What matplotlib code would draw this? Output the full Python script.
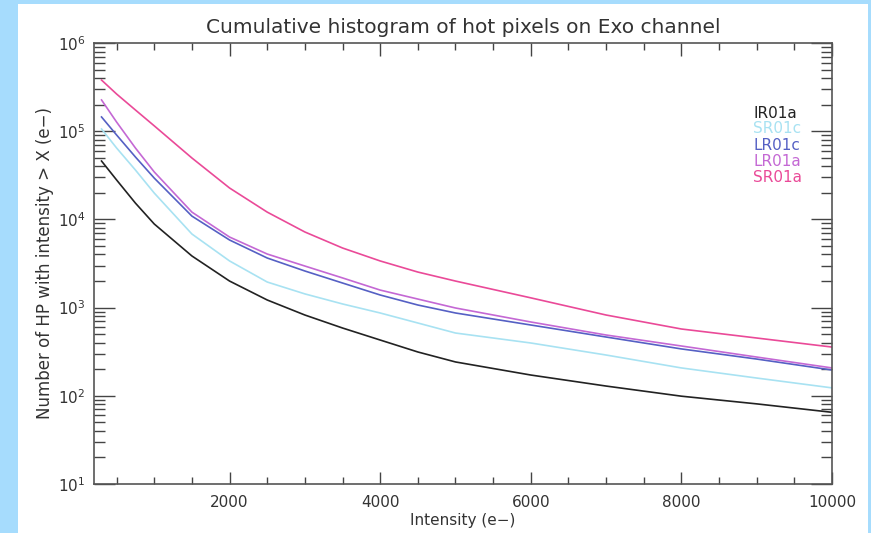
import numpy as np
import matplotlib
matplotlib.use('Agg')
import matplotlib.pyplot as plt
from matplotlib.patches import Rectangle
from matplotlib.ticker import LogLocator, MultipleLocator, FixedLocator, NullFormatter

# intensity grid (e-)
intensity = [300, 500, 750, 1000, 1500, 2000, 2500, 3000, 3500, 4000,
             4500, 5000, 6000, 7000, 8000, 9000, 10000]

# number of hot pixels with intensity > X
ir01a = [45900, 28000, 15300, 8870, 3850, 2000, 1220, 824, 587, 429,
         314, 242, 172, 129, 99, 81, 65]
sr01c = [106000, 64500, 36300, 19900, 6830, 3380, 1950, 1430, 1100, 869,
         669, 515, 397, 290, 207, 159, 123]
lr01c = [145000, 90600, 51000, 29400, 10900, 5840, 3650, 2600, 1900, 1390,
         1070, 869, 635, 464, 340, 261, 196]
lr01a = [226000, 127000, 64500, 34500, 12100, 6310, 4050, 2960, 2170, 1580,
         1250, 990, 687, 489, 367, 275, 207]
sr01a = [380000, 264000, 174000, 115000, 49700, 22700, 12100, 7200, 4740, 3380,
         2530, 2000, 1290, 824, 572, 452, 357]

names = ['IR01a', 'SR01c', 'LR01c', 'LR01a', 'SR01a']
colors = ['#222222', '#a8e2f2', '#5560c4', '#c468d4', '#ea4a98']
series = [ir01a, sr01c, lr01c, lr01a, sr01a]

txt = '#333333'
fig = plt.figure(figsize=(8.71, 5.33), dpi=100)
fig.patch.set_facecolor('#a6dcfd')
fig.patches.append(Rectangle((18 / 871, 0), 850 / 871, 1 - 4 / 533,
                             transform=fig.transFigure, facecolor='white',
                             edgecolor='none', zorder=-10))

ax = fig.add_axes([94 / 871, 1 - 484 / 533, 738 / 871, 441 / 533])
ax.set_facecolor('white')

for vals, col in zip(series, colors):
    ax.plot(intensity, vals, color=col, lw=1.2)

ax.set_yscale('log')
ax.set_xlim(200, 10000)
ax.set_ylim(10, 1e6)

ax.xaxis.set_major_locator(FixedLocator([2000, 4000, 6000, 8000, 10000]))
ax.xaxis.set_minor_locator(MultipleLocator(500))
ax.yaxis.set_major_locator(LogLocator(base=10, numticks=10))
ax.yaxis.set_minor_locator(LogLocator(base=10, subs=np.arange(2, 10), numticks=10))
ax.yaxis.set_minor_formatter(NullFormatter())

ax.tick_params(axis='both', which='both', direction='in', top=True, right=True,
               color='#444444', width=1.0, labelcolor=txt, labelsize=11)
ax.tick_params(axis='x', which='major', length=9, pad=8)
ax.tick_params(axis='x', which='minor', length=5)
ax.tick_params(axis='y', which='major', length=15, pad=6)
ax.tick_params(axis='y', which='minor', length=8)
for sp in ax.spines.values():
    sp.set_color('#555555')
    sp.set_linewidth(1.2)

ax.set_title('Cumulative histogram of hot pixels on Exo channel',
             fontsize=14.5, color=txt, pad=7)
ax.set_xlabel('Intensity (e\u2212)', fontsize=11, color=txt, labelpad=2)
ax.set_ylabel('Number of HP with intensity > X (e\u2212)', fontsize=12,
              color=txt, labelpad=3)

# legend as coloured text
for i, (name, col) in enumerate(zip(names, colors)):
    ax.text(753 / 871, 1 - (113 + 16 * i) / 533, name, color=col,
            fontsize=11, transform=fig.transFigure, va='center', ha='left')

fig.savefig('out.png', dpi=100, facecolor=fig.get_facecolor())
